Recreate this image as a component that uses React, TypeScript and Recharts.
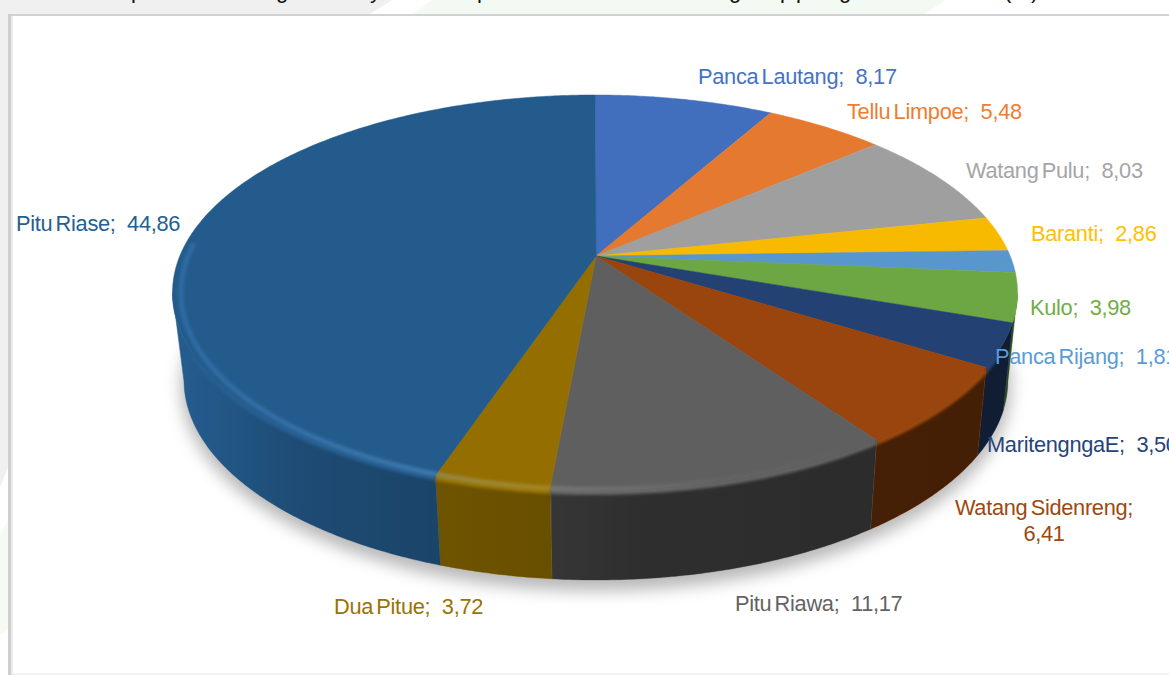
import React from 'react';
import { PieChart, Pie } from 'recharts';

const names = [
  'Panca Lautang', 'Tellu Limpoe', 'Watang Pulu', 'Baranti', 'Panca Rijang', 'Kulo',
  'MaritengngaE', 'Watang Sidenreng', 'Pitu Riawa', 'Dua Pitue', 'Pitu Riase',
];
const values = [8.17, 5.48, 8.03, 2.86, 1.81, 3.98, 3.5, 6.41, 11.17, 3.72, 44.86];
const colors = [
  '#4472C4', '#ED7D31', '#A5A5A5', '#FFC000', '#5B9BD5', '#70AD47',
  '#264478', '#9E480E', '#636363', '#997300', '#255E91',
];
// [x, baseline, anchor] per label, data labels were hand placed in the source chart
const labelSpots: [number, number, string][] = [
  [698, 84, 'start'], [847, 119, 'start'], [966, 178, 'start'], [1031, 241, 'start'],
  [995, 364, 'start'], [1030, 315, 'start'], [987, 452, 'start'], [1044, 515, 'middle'],
  [735, 611, 'start'], [334, 614, 'start'], [16, 231, 'start'],
];
// bits of the page heading that stick into the top of the crop
const headingBits: [string, number][] = [
  ['p', 131], ['g', 276], ['y', 370], ['p', 477], ['g', 729], ['p', 780], ['p', 796], ['g', 839], ['(%)', 1004],
];

const data = names.map((name, i) => ({ name, value: values[i], fill: colors[i] }));

// perspective of the tilted disc
const APEX = { x: 596, y: 256 };
const RIM_X = 595;
const K = -0.185;
const SCALE_X = 415.2;
const SCALE_Y = 190.8;
const TOP = { cx: 595, cy: 292.5, rx: 422.5, ry: 197.5 };
const BOTTOM = { cx: 596, cy: 380, rx: 412, ry: 200 };

const rimPoint = (deg: number) => {
  const a = (deg * Math.PI) / 180;
  const u = Math.cos(a);
  const v = -Math.sin(a);
  const w = 1 + K * v;
  return { x: RIM_X + (SCALE_X * u) / w, y: APEX.y + (SCALE_Y * v) / w };
};

const sampleRim = (start: number, end: number) => {
  const n = Math.max(2, Math.ceil(Math.abs(start - end) * 2));
  const pts = [];
  for (let i = 0; i <= n; i++) pts.push(rimPoint(start + ((end - start) * i) / n));
  return pts;
};

const toPath = (pts: { x: number; y: number }[]) =>
  pts.map((p, i) => `${i ? 'L' : 'M'}${p.x.toFixed(2)} ${p.y.toFixed(2)}`).join(' ');

const frontOf = (start: number, end: number) => sampleRim(start, end).filter(p => p.y >= TOP.cy);

const bottomOf = (p: { x: number; y: number }) => {
  const c = Math.max(-1, Math.min(1, (p.x - TOP.cx) / TOP.rx));
  const s = Math.sqrt(1 - c * c);
  return { x: BOTTOM.cx + BOTTOM.rx * c, y: BOTTOM.cy + BOTTOM.ry * s };
};

const WallShape = (props: any) => {
  const front = frontOf(props.startAngle, props.endAngle);
  if (front.length < 2) return <g />;
  const d = toPath([...front, ...front.map(bottomOf).reverse()]) + ' Z';
  return (
    <g>
      <path d={d} fill={props.fill} stroke={props.fill} strokeWidth={0.5} />
      <path d={d} fill="url(#wallShade)" />
    </g>
  );
};

const TopShape = (props: any) => {
  const rim = sampleRim(props.startAngle, props.endAngle);
  const d = toPath([APEX, ...rim]) + ' Z';
  // soft lip into the wall, kept off the far left and right ends of the disc
  const lip = rim.filter(p => p.y >= TOP.cy + 60);
  // rim glow sits just inside the silhouette at the sides
  const band = rim
    .filter(p => p.y >= TOP.cy - 50)
    .map(p => ({ x: TOP.cx + (p.x - TOP.cx) * 0.98, y: p.y - Math.max(0, p.y - TOP.cy) * 0.004 }));
  return (
    <g>
      {lip.length > 1 && (
        <path
          d={toPath(lip.map(p => ({ x: p.x, y: p.y + 2 })))}
          fill="none"
          stroke={props.fill}
          strokeWidth={6}
          filter="url(#soft)"
        />
      )}
      <path d={d} fill={props.fill} stroke={props.fill} strokeWidth={0.5} />
      <path d={d} fill="#000" fillOpacity={0.03} />
      {band.length > 1 && (
        <path
          d={toPath(band)}
          fill="none"
          stroke="url(#rimGlow)"
          strokeWidth={5}
          filter="url(#soft)"
        />
      )}
    </g>
  );
};

const renderLabel = (props: any) => {
  const i = props.index;
  const [x, y, anchor] = labelSpots[i];
  const text = String(values[i]).replace('.', ',').replace(/^3,5$/, '3,50');
  const style: React.CSSProperties = {
    fontFamily: '"Liberation Sans", Arial, sans-serif',
    fontSize: 21.8,
    letterSpacing: -0.3,
    whiteSpace: 'pre',
  };
  const nameStyle: React.CSSProperties = { wordSpacing: -2.5 };
  if (names[i] === 'Watang Sidenreng') {
    return (
      <text key={i} x={x} y={y} textAnchor={anchor as any} fill={colors[i]} style={style}>
        <tspan x={x} style={nameStyle}>{names[i]};</tspan>
        <tspan x={x} dy={26}>{text}</tspan>
      </text>
    );
  }
  return (
    <text key={i} x={x} y={y} textAnchor={anchor as any} fill={colors[i]} style={style}>
      <tspan style={nameStyle}>{names[i]};</tspan>
      <tspan>{`  ${text}`}</tspan>
    </text>
  );
};

const Backdrop = () => (
  <svg width={1169} height={675} style={{ position: 'absolute', left: 0, top: 0 }}>
    <defs>
      <linearGradient id="wallShade" gradientUnits="userSpaceOnUse" x1="172" y1="0" x2="1017" y2="0">
        <stop offset="0" stopColor="#000" stopOpacity={0} />
        <stop offset="0.15" stopColor="#000" stopOpacity={0.2} />
        <stop offset="0.32" stopColor="#000" stopOpacity={0.28} />
        <stop offset="0.449" stopColor="#000" stopOpacity={0.32} />
        <stop offset="0.45" stopColor="#000" stopOpacity={0.46} />
        <stop offset="0.55" stopColor="#000" stopOpacity={0.53} />
        <stop offset="1" stopColor="#000" stopOpacity={0.58} />
      </linearGradient>
      <linearGradient id="rimGlow" gradientUnits="userSpaceOnUse" x1="172" y1="0" x2="1017" y2="0">
        <stop offset="0" stopColor="#5aa8ff" stopOpacity={0.2} />
        <stop offset="0.3" stopColor="#7fbfff" stopOpacity={0.28} />
        <stop offset="0.45" stopColor="#ffffff" stopOpacity={0.14} />
        <stop offset="0.65" stopColor="#ffffff" stopOpacity={0.03} />
        <stop offset="0.8" stopColor="#ffffff" stopOpacity={0} />
      </linearGradient>
      <filter id="soft" x="-20%" y="-40%" width="140%" height="180%">
        <feGaussianBlur stdDeviation="1.6" />
      </filter>
      <filter id="shadowBlur" x="-10%" y="-10%" width="120%" height="120%">
        <feGaussianBlur stdDeviation="8" />
      </filter>
    </defs>
    <rect x={0} y={0} width={1169} height={675} fill="#fff" />
    <polygon points="0,0 392,0 370,14 8,14 8,467 0,487" fill="#f0f0f0" />
    <polygon points="432,0 945,0 925,14 413,14" fill="#f3f9f3" />
    <polygon points="0,534 8,521 8,630 0,635" fill="#f5faf3" />
    <rect x={8} y={14} width={1161} height={2} fill="#d2d2d2" />
    <rect x={8} y={14} width={3} height={661} fill="#cfcfcf" />
    <rect x={11} y={16} width={2} height={659} fill="#ececec" />
    <rect x={13} y={673} width={1156} height={2} fill="#f2f2f2" />
    <ellipse
      cx={BOTTOM.cx}
      cy={BOTTOM.cy + 7}
      rx={BOTTOM.rx + 3}
      ry={BOTTOM.ry + 4}
      fill="#000"
      fillOpacity={0.28}
      filter="url(#shadowBlur)"
    />
    {headingBits.map(([t, x], i) => (
      <text key={i} x={x} y={-2} fontSize={22} fontFamily='"Liberation Sans", Arial, sans-serif' fill="#111">
        {t}
      </text>
    ))}
  </svg>
);

export default function App() {
  return (
    <div style={{ position: 'absolute', left: 0, top: 0, width: 1169, height: 675, overflow: 'hidden', background: '#fff' }}>
      <Backdrop />
      <div style={{ position: 'absolute', left: 0, top: 0 }}>
        <PieChart width={1169} height={675} margin={{ top: 0, right: 0, bottom: 0, left: 0 }}>
          <Pie
            data={data}
            dataKey="value"
            nameKey="name"
            cx={596}
            cy={256}
            outerRadius={200}
            startAngle={90}
            endAngle={-270}
            stroke="none"
            shape={WallShape}
            label={false}
            labelLine={false}
            isAnimationActive={false}
          />
          <Pie
            data={data}
            dataKey="value"
            nameKey="name"
            cx={596}
            cy={256}
            outerRadius={200}
            startAngle={90}
            endAngle={-270}
            stroke="none"
            shape={TopShape}
            label={renderLabel}
            labelLine={false}
            isAnimationActive={false}
          />
        </PieChart>
      </div>
    </div>
  );
}
